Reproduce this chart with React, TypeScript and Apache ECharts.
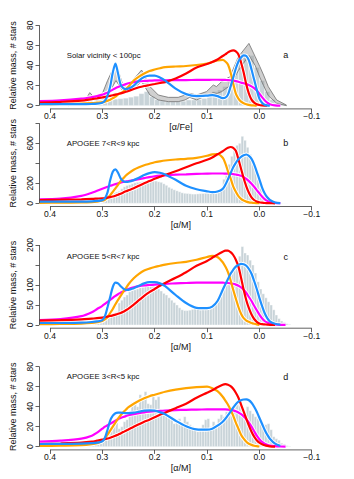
import React, { useEffect, useRef } from "react";
import * as echarts from "echarts";

// ---------- shared x grid for the model curves ----------
const lineX = [0.42, 0.38, 0.34, 0.32, 0.31, 0.30, 0.295, 0.29, 0.285, 0.28, 0.275, 0.27, 0.265, 0.26, 0.255, 0.25, 0.24, 0.23, 0.22, 0.21, 0.20, 0.19, 0.18, 0.16, 0.14, 0.12, 0.10, 0.09, 0.08, 0.07, 0.065, 0.06, 0.055, 0.05, 0.045, 0.04, 0.035, 0.03, 0.025, 0.02, 0.015, 0.01, 0.005, 0.0, -0.005, -0.01, -0.015, -0.02, -0.03, -0.04, -0.05];

// ---------- panel a : Solar vicinity ----------
const aRed = [3, 3.8, 5, 6.5, 7.3, 8.2, 8.7, 9.2, 9.8, 10.4, 11, 11.6, 12.3, 13, 13.8, 14.7, 16.6, 18.3, 19.6, 20.6, 21.6, 22.6, 23.5, 27, 32, 38, 41.5, 43.5, 46, 49.5, 51, 53, 54.5, 55, 54, 51, 43, 33, 21, 12, 6, 3, 1.5, 0.7, 0.3, 0.1, 0, null, null, null, null];
const aOrange = [1.5, 1.7, 2, 2.5, 3, 3.5, 4, 5, 6, 7.5, 9, 11, 12.5, 14, 16.5, 19, 25, 29, 32, 34.5, 36, 37.3, 38.3, 39, 39.5, 40.5, 42, 43.5, 45, 45.5, 44, 41, 33, 22, 12, 7, 4, 2.5, 1.5, 0.8, 0.4, 0.2, 0, null, null, null, null, null, null, null, null];
const aMagenta = [4.5, 5.3, 7, 8.5, 9.5, 11, 12, 13, 14.5, 16, 17.3, 18.5, 19.6, 20.6, 21.5, 22.3, 23.5, 24.2, 24.6, 24.9, 25.1, 25.2, 25.3, 25.4, 25.5, 25.6, 25.7, 25.8, 25.8, 25.7, 25.6, 25.5, 25.3, 25, 24.5, 23.8, 23, 22.3, 21.5, 20.5, 19.2, 17.5, 15, 12, 8.5, 5.5, 3, 1.5, 0.3, 0, null];
const aBlue = [1.5, 1.5, 1.5, 1.7, 2, 3, 5, 10, 19, 33, 42, 32, 21, 17.5, 16.5, 17, 20, 25, 28.5, 30, 30, 28, 25, 17, 11.5, 9.5, 10, 10.5, 9.5, 7.5, 8, 11, 19, 28, 37, 44, 48, 50, 49.5, 45, 36, 26, 16, 7, 3, 1, 0.3, 0, null, null, null];
const aHist = [0.5, 1, 2.4, 3.5, 5, 6, 6.5, 7, 7.5, 8.5, 9.5, 12, 14, 9, 6, 5, 4, 4, 4, 4.5, 5.7, 5.7, 6, 7.3, 10.6, 14, 15.6, 19, 24, 34, 44, 48, 50, 38, 25, 14, 6, 3, 1.5];
const bandX = [0.365, 0.349, 0.336, 0.324, 0.311, 0.301, 0.29, 0.274, 0.26, 0.244, 0.225, 0.209, 0.193, 0.174, 0.155, 0.142, 0.133, 0.12, 0.101, 0.088, 0.082, 0.072, 0.056, 0.04, 0.02, 0.008, -0.001, -0.008, -0.017, -0.033, -0.052];
const bandUpper = [0.5, 6.3, 2.4, 13, 5.7, 10.6, 25, 42.8, 19, 24, 35.5, 19, 10.6, 8.3, 8.3, 10.6, 12.3, 10.6, 14, 20.6, 19, 24, 29, 48.8, 62, 48.8, 38.8, 30.5, 19, 5.7, 0.5];
const bandLower = [0, 1.5, 0.5, 5, 1, 2, 10, 25, 14, 15.6, 24, 10.6, 5.7, 4, 4, 5.7, 8.3, 5.7, 10, 13, 12, 14, 20, 35, 50, 40, 28, 20, 10, 2.4, 0];

// ---------- panel b : APOGEE 7<R<9 ----------
const bRed = [33, 36, 40, 44, 47, 50, 53, 57, 62, 68, 76, 86, 96, 108, 120, 130, 150, 175, 200, 222, 245, 265, 285, 320, 360, 400, 435, 458, 490, 520, 540, 555, 563, 555, 525, 440, 345, 250, 170, 105, 60, 33, 18, 10, 6, 3, 2, 1, 0, null, null];
const bOrange = [5, 6, 8, 12, 17, 25, 35, 55, 82, 115, 150, 185, 220, 250, 278, 300, 335, 360, 380, 395, 410, 420, 428, 438, 445, 455, 475, 490, 493, 455, 400, 320, 250, 170, 115, 72, 45, 28, 17, 10, 6, 3, 1.5, 0.5, null, null, null, null, null, null, null];
const bMagenta = [40, 47, 75, 105, 125, 145, 155, 165, 175, 183, 192, 200, 207, 213, 218, 223, 232, 242, 252, 262, 270, 276, 280, 286, 290, 294, 297, 298, 298, 298, 297, 296, 294, 292, 288, 283, 275, 262, 245, 222, 195, 165, 132, 100, 68, 42, 24, 13, 4, 1.5, null];
const bBlue = [16, 16, 17, 20, 24, 32, 50, 110, 230, 315, 340, 305, 250, 222, 214, 216, 232, 255, 282, 302, 312, 305, 288, 235, 175, 140, 120, 112, 118, 145, 185, 240, 300, 360, 405, 440, 465, 480, 488, 475, 445, 390, 315, 240, 160, 100, 60, 35, 8, 2, null];
const bHist = [5, 6, 8, 10, 12, 15, 20, 25, 32, 40, 50, 65, 80, 95, 105, 112, 120, 145, 165, 178, 185, 195, 205, 210, 212, 218, 220, 222, 224, 225, 222, 215, 210, 195, 180, 160, 148, 135, 125, 115, 105, 100, 98, 95, 92, 92, 94, 96, 98, 99, 100, 102, 105, 112, 120, 150, 240, 310, 390, 470, 555, 580, 600, 670, 630, 560, 490, 420, 330, 235, 150, 85, 50, 30, 18, 10, 6, 3, 2, 1, 0.5, 0.3];

// ---------- panel c : APOGEE 5<R<7 ----------
const cRed = [11, 12, 14, 16, 17, 18.5, 19.5, 21, 22.5, 24, 26, 28, 30, 33, 37, 41, 51, 62, 73, 82, 90, 98, 105, 118, 132, 148, 160, 168, 176, 183, 186, 186, 182, 175, 163, 146, 118, 88, 62, 42, 26, 15, 8, 4, 2, 1.5, 1, 0.5, 0.2, null, null];
const cOrange = [2, 2.5, 3.5, 5, 7, 10, 14, 20, 30, 40, 52, 63, 73, 83, 92, 102, 117, 128, 136, 141, 145, 148, 151, 155, 158, 163, 170, 173, 170, 157, 146, 132, 112, 88, 66, 45, 28, 17, 11, 8, 5, 3, 1.5, 0.5, null, null, null, null, null, null, null];
const cMagenta = [12.5, 15, 22, 32, 40, 48, 53, 58, 63, 68, 73, 77, 81, 84, 87, 90, 94, 97, 99, 100, 101, 102, 103, 104, 105, 106, 106, 106, 106, 106, 105, 105, 104, 103, 101, 98, 94, 88, 80, 70, 60, 48, 37, 26, 17, 10, 6, 3.5, 1.5, 0.5, 0.2];
const cBlue = [5, 5, 6, 7.5, 9, 12, 22, 45, 70, 95, 106, 104, 97, 91, 88, 88, 92, 98, 104, 107, 107, 104, 97, 75, 55, 43, 42, 46, 60, 88, 102, 115, 128, 138, 146, 150, 153, 152, 148, 140, 128, 110, 90, 68, 48, 30, 17, 9, 3, 1, null];
const cHist = [2, 2.5, 3, 3.5, 4, 4.5, 5, 6, 7, 8, 12, 17, 22, 25, 30, 33, 55, 62, 70, 75, 83, 87, 88, 90, 96, 100, 98, 96, 98, 100, 96, 90, 85, 79, 75, 68, 62, 56, 50, 43, 38, 36, 36, 37, 39, 42, 40, 37, 40, 42, 44, 46, 50, 56, 65, 78, 88, 100, 112, 128, 140, 152, 172, 196, 180, 175, 162, 150, 130, 108, 90, 78, 68, 58, 50, 38, 25, 16, 10, 6, 3, 1.5];

// ---------- panel d : APOGEE 3<R<5 ----------
const dRed = [2.7, 3.2, 4, 5, 6, 7, 7.6, 8.2, 9, 10, 11, 12, 13.3, 14.6, 16, 17.3, 20, 22.5, 25, 27, 29.5, 32, 34, 38.5, 43, 49, 54, 56.5, 59.5, 62, 62.5, 62, 60.5, 58, 54, 49, 42, 35, 28, 21, 15, 10, 6.5, 4, 2.5, 1.5, 0.8, 0.4, 0.1, null, null];
const dOrange = [0.7, 1, 1.5, 2.5, 3.5, 6, 8.5, 12, 16, 20, 24, 28, 31.5, 34.5, 37, 39.5, 43, 46, 48.5, 50.5, 52, 53.5, 55, 57, 58.5, 59.5, 60, 58.5, 55.5, 50, 46, 42, 37, 31, 24, 18, 12, 8, 5, 3, 1.8, 1, 0.5, 0.2, null, null, null, null, null, null, null];
const dMagenta = [5, 6, 8, 11, 14, 18, 20, 21.5, 23, 24.5, 26, 27.5, 28.7, 29.7, 30.6, 31.4, 32.6, 33.6, 34.4, 35, 35.5, 35.9, 36.2, 36.6, 36.9, 37.1, 37.3, 37.4, 37.4, 37.4, 37.3, 37.1, 36.8, 36.3, 35.5, 34.2, 32.5, 30.3, 27.5, 24, 20, 15.5, 11, 7.5, 4.8, 3, 1.8, 1.1, 0.5, 0.2, 0.1];
const dBlue = [2.7, 2.8, 3, 3.5, 4, 5.5, 9, 17, 26, 31, 33.5, 34, 34, 33.8, 33.5, 33.5, 34, 35, 36, 36.3, 36, 34.5, 32.5, 26, 20.5, 17.3, 17, 18, 21, 25, 28, 31.5, 35, 39, 42.5, 45, 46.5, 47.2, 47.3, 46.5, 44, 40, 35, 29, 23, 17, 12, 8, 3, 0.8, null];
const dHist = [0.5, 0.5, 0.8, 1, 1, 1.5, 2, 3, 4, 6, 8, 10, 14, 17, 20, 24, 18, 20, 25, 27, 35, 44, 45, 40, 52, 48, 55, 43, 42, 50, 47, 50, 37, 35, 33, 32, 30, 23, 27, 28, 24, 30, 25, 22, 20, 17, 15, 18, 22, 27, 28, 20, 25, 22, 28, 32, 30, 35, 37, 33, 43, 45, 42, 38, 35, 40, 36, 33, 30, 28, 23, 20, 22, 23, 17, 10, 8, 6.5, 3.5, 2.7, 1, 0.5];

// ---------- axes / texts ----------
const xTicks = [0.4, 0.3, 0.2, 0.1, 0.0, -0.1];
const yTicksA = [0, 20, 40, 60, 80];
const yTicksB = [0, 200, 400, 600, 800];
const yLabelsB = [0, 200, 600];
const yTicksC = [0, 50, 100, 150, 200];
const yLabelsC = [0, 50, 100, 200];
const yTicksD = [0, 20, 40, 60, 80];
const panelTitles = ["Solar vicinity < 100pc", "APOGEE 7<R<9 kpc", "APOGEE 5<R<7 kpc", "APOGEE 3<R<5 kpc"];
const panelLetters = ["a", "b", "c", "d"];
const xNames = ["[\u03b1/Fe]", "[\u03b1/M]", "[\u03b1/M]", "[\u03b1/M]"];
const yName = "Relative mass, # stars";

const FONT = '"Liberation Sans", Arial, Helvetica, sans-serif';
const AXIS = "#3a3a3a";
const HIST_FILL = "#c8d3d8";
const COLORS = { magenta: "#ff00ff", orange: "#ffa500", red: "#ff0000", blue: "#1e90ff" };

const GRID_LEFT = 39.5;
const GRID_W = 282.7;
const X_MIN = -0.12;
const X_MAX = 0.42;

const panels = [
  { top: 22.1, height: 86.8, yTop: 80, yTicks: yTicksA, yLabels: yTicksA, hist: aHist, hStart: 0.34, hW: 0.01,
    lines: { magenta: aMagenta, orange: aOrange, red: aRed, blue: aBlue }, band: true, textY: 55 },
  { top: 120.1, height: 86.4, yTop: 800, yTicks: yTicksB, yLabels: yLabelsB, hist: bHist, hStart: 0.35, hW: 0.005,
    lines: { magenta: bMagenta, orange: bOrange, red: bRed, blue: bBlue }, band: false, textY: 143.3 },
  { top: 241.8, height: 86.4, yTop: 200, yTicks: yTicksC, yLabels: yLabelsC, hist: cHist, hStart: 0.35, hW: 0.005,
    lines: { magenta: cMagenta, orange: cOrange, red: cRed, blue: cBlue }, band: false, textY: 256.7 },
  { top: 363.5, height: 86.4, yTop: 80, yTicks: yTicksD, yLabels: yTicksD, hist: dHist, hStart: 0.35, hW: 0.005,
    lines: { magenta: dMagenta, orange: dOrange, red: dRed, blue: dBlue }, band: false, textY: 376.7 },
];

const fmtX = (v: number) => {
  if (Math.abs(v) < 1e-9) return "0.0";
  if (v < 0) return "\u2212" + (-v).toFixed(1);
  return v.toFixed(1);
};

function pairs(ys: (number | null)[]) {
  const out: number[][] = [];
  ys.forEach((y, i) => { if (y !== null) out.push([lineX[i], y]); });
  return out;
}

function buildOption() {
  const grid: any[] = [];
  const xAxis: any[] = [];
  const yAxis: any[] = [];
  const series: any[] = [];
  const graphic: any[] = [];

  panels.forEach((p, i) => {
    const yMin = -0.04 * p.yTop;
    const yMax = 1.04 * p.yTop;
    grid.push({ left: GRID_LEFT, top: p.top, width: GRID_W, height: p.height, containLabel: false });
    xAxis.push({
      gridIndex: i, type: "value", min: X_MIN, max: X_MAX, inverse: true,
      axisLine: { show: false, onZero: false }, splitLine: { show: false },
      axisTick: { show: true, customValues: xTicks, length: 4, lineStyle: { color: AXIS, width: 0.8 } },
      axisLabel: { customValues: xTicks, formatter: fmtX, margin: 3, fontSize: 8.5, color: "#111", fontFamily: FONT },
      name: xNames[i], nameLocation: "middle", nameGap: 14,
      nameTextStyle: { fontSize: 9, color: "#111", fontFamily: FONT },
    });
    yAxis.push({
      gridIndex: i, type: "value", min: yMin, max: yMax,
      axisLine: { show: false, onZero: false }, splitLine: { show: false },
      axisTick: { show: true, customValues: p.yTicks, length: 4, lineStyle: { color: AXIS, width: 0.8 } },
      axisLabel: { customValues: p.yLabels, rotate: 90, margin: 5, fontSize: 8.5, color: "#111", fontFamily: FONT },
      name: yName, nameLocation: "middle", nameRotate: 90, nameGap: 18,
      nameTextStyle: { fontSize: 9, color: "#111", fontFamily: FONT },
    });

    // histogram
    const hData = p.hist.map((h, k) => [p.hStart - (k + 1) * p.hW, p.hStart - k * p.hW, h]);
    series.push({
      type: "custom", xAxisIndex: i, yAxisIndex: i, data: hData, encode: { x: [0, 1], y: 2 }, z: 1, silent: true,
      renderItem: (_params: any, api: any) => {
        const a = api.coord([api.value(0), api.value(2)]);
        const b = api.coord([api.value(1), 0]);
        return {
          type: "rect",
          shape: { x: Math.min(a[0], b[0]), y: a[1], width: Math.abs(b[0] - a[0]), height: b[1] - a[1] },
          style: { fill: HIST_FILL, stroke: "#ffffff", lineWidth: 0.4 },
        };
      },
    });

    // grey band (panel a)
    if (p.band) {
      series.push({
        type: "custom", xAxisIndex: i, yAxisIndex: i, data: [[bandX[0], bandUpper[0]]], z: 2, silent: true,
        renderItem: (_params: any, api: any) => {
          const up = bandX.map((x, k) => api.coord([x, bandUpper[k]]));
          const lo = bandX.map((x, k) => api.coord([x, bandLower[k]]));
          return {
            type: "group",
            children: [
              { type: "polygon", shape: { points: up.concat(lo.slice().reverse()) }, style: { fill: "rgba(150,150,150,0.45)" } },
              { type: "polyline", shape: { points: up }, style: { stroke: "#707070", lineWidth: 0.8, fill: null } },
              { type: "polyline", shape: { points: lo }, style: { stroke: "#707070", lineWidth: 0.8, fill: null } },
            ],
          };
        },
      });
    }

    // white halos then coloured curves
    const order: (keyof typeof COLORS)[] = ["magenta", "orange", "red", "blue"];
    order.forEach((k) => {
      series.push({
        type: "line", xAxisIndex: i, yAxisIndex: i, data: pairs((p.lines as any)[k]), smooth: 0.3,
        showSymbol: false, symbol: "none", silent: true, z: 3,
        lineStyle: { color: "#ffffff", width: 4 },
      });
    });
    order.forEach((k, j) => {
      series.push({
        type: "line", xAxisIndex: i, yAxisIndex: i, data: pairs((p.lines as any)[k]), smooth: 0.3,
        showSymbol: false, symbol: "none", silent: true, z: 4 + j * 0.01,
        lineStyle: { color: COLORS[k], width: 2.2 },
      });
    });

    // R-style axis lines spanning first to last tick, drawn through the axis scales
    const yt0 = p.yTicks[0];
    const yt1 = p.yTicks[p.yTicks.length - 1];
    series.push({
      type: "custom", xAxisIndex: i, yAxisIndex: i, data: [[xTicks[0], yMin]], z: 6, silent: true, clip: false,
      renderItem: (_params: any, api: any) => {
        const x0 = api.coord([xTicks[0], yMin]);
        const x1 = api.coord([xTicks[xTicks.length - 1], yMin]);
        const y0 = api.coord([X_MAX, yt0]);
        const y1 = api.coord([X_MAX, yt1]);
        return {
          type: "group",
          children: [
            { type: "line", shape: { x1: x0[0], y1: x0[1], x2: x1[0], y2: x1[1] }, style: { stroke: AXIS, lineWidth: 0.8 } },
            { type: "line", shape: { x1: y0[0], y1: y0[1], x2: y1[0], y2: y1[1] }, style: { stroke: AXIS, lineWidth: 0.8 } },
          ],
        };
      },
    });

    graphic.push({
      type: "text", x: 66.7, y: p.textY, silent: true,
      style: { text: panelTitles[i], fill: "#111", font: `7.8px ${FONT}`, verticalAlign: "middle", align: "left" },
    });
    graphic.push({
      type: "text", x: 285.7, y: p.textY, silent: true,
      style: { text: panelLetters[i], fill: "#111", font: `9px ${FONT}`, verticalAlign: "middle", align: "center" },
    });
  });

  return { animation: false, backgroundColor: "#ffffff", grid, xAxis, yAxis, series, graphic };
}

export default function App() {
  const ref = useRef<HTMLDivElement>(null);
  useEffect(() => {
    if (!ref.current) return;
    const chart = echarts.init(ref.current, undefined, { renderer: "svg" });
    chart.setOption(buildOption() as any);
    return () => chart.dispose();
  }, []);
  return (
    <div
      ref={ref}
      style={{ position: "fixed", left: 0, top: 0, width: 354, height: 479, background: "#fff" }}
    />
  );
}
